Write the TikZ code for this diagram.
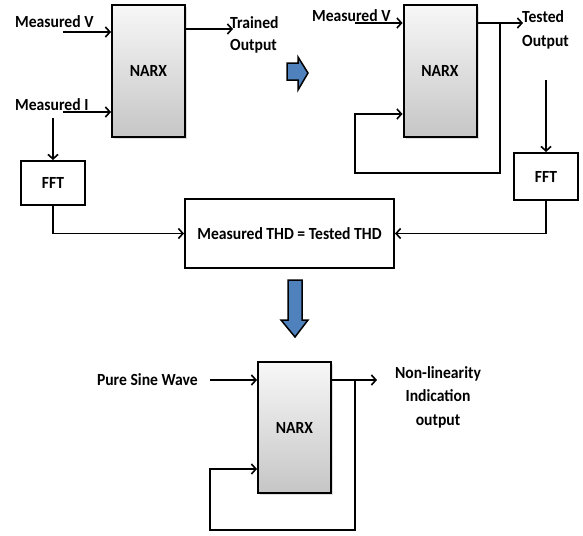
\documentclass[tikz,border=0pt]{standalone}
\usepackage{fontspec}
\setmainfont{Carlito}[FakeStretch=0.92]
\usetikzlibrary{arrows.meta,shadows}

\definecolor{blockblue}{RGB}{79,129,189}
\tikzset{
  narx/.style={draw, line width=2pt, top color=gray!6, bottom color=gray!45,
    minimum width=73pt, minimum height=132pt, font=\bfseries\fontsize{17}{19}\selectfont,
    drop shadow={opacity=0.25, shadow xshift=2pt, shadow yshift=-2pt}},
  plainbox/.style={draw, line width=2pt, fill=white, font=\bfseries\fontsize{17}{19}\selectfont},
  lbl/.style={font=\bfseries\fontsize{17}{22}\selectfont, inner sep=0pt},
  conn/.style={line width=1.6pt, -{Straight Barb[length=4.5pt,width=10pt,line width=1.6pt]}},
  bigarrow/.style={draw=black, line width=1.5pt, fill=blockblue, line join=miter},
}

\begin{document}
\begin{tikzpicture}[x=1pt,y=-1pt]
  \useasboundingbox (0,0) rectangle (583,535);

  % training network
  \node[narx] (narxA) at (148.5,71) {NARX};
  \node[lbl, anchor=base west] (mvA) at (15,28) {Measured V};
  \node[lbl, anchor=base west] (miA) at (15,110) {Measured I};
  \node[lbl, anchor=north west, align=left] (trainA) at (230,16.5) {Trained\\Output};
  \node[plainbox, minimum width=64pt, minimum height=44pt] (fftA) at (53,183) {FFT};
  \coordinate (inVA) at (63,32);
  \coordinate (inIA) at (63,112);
  \coordinate (tapI) at (53,118);
  \coordinate (outA) at (233,29);
  \draw[conn] (inVA) -- (inVA -| narxA.west);
  \draw[conn] (inIA) -- (inIA -| narxA.west);
  \draw[conn] (outA -| narxA.east) -- (outA);
  \draw[conn] (tapI) -- (fftA.north);

  % step arrow
  \draw[bigarrow] (287,63) -- (298,63) -- (298,57) -- (308,73) -- (298,90) -- (298,80) -- (287,80) -- cycle;

  % testing network
  \node[narx] (narxB) at (440,71) {NARX};
  \node[lbl, anchor=base west] (mvB) at (312,21.5) {Measured V};
  \node[lbl, anchor=north west, align=left, font=\bfseries\fontsize{17}{24}\selectfont] (testB) at (522,10) {Tested\\Output};
  \node[plainbox, minimum width=64pt, minimum height=47pt] (fftB) at (546,176.5) {FFT};
  \coordinate (inVB) at (355,23);
  \coordinate (outB) at (523,23);
  \coordinate (tapB) at (500,23);
  \coordinate (loopB) at (355,173);
  \coordinate (tapT) at (546,80);
  \draw[conn] (inVB) -- (inVB -| narxB.west);
  \draw[conn] (outB -| narxB.east) -- (outB);
  \draw[conn] (tapB) |- (loopB) |- ([yshift=24pt]narxB.south west);
  \draw[conn] (tapT) -- (fftB.north);

  % comparison
  \node[plainbox, minimum width=209pt, minimum height=69pt] (thd) at (289.5,233.5) {Measured THD = Tested THD};
  \draw[conn] (fftA.south) |- (thd.west);
  \draw[conn] (fftB.south) |- (thd.east);

  % step arrow
  \draw[bigarrow] (288,280) -- (302,280) -- (302,320) -- (308,320) -- (295,337) -- (281,320) -- (288,320) -- cycle;

  % indication network
  \node[narx, minimum height=131pt] (narxC) at (294.5,427.5) {NARX};
  \node[lbl, anchor=base east] (psw) at (198,385) {Pure Sine Wave};
  \node[lbl, anchor=north, align=center, font=\bfseries\fontsize{17}{23.5}\selectfont] (nlo) at (438,366) {Non-linearity\\Indication\\output};
  \coordinate (inC) at (210,380);
  \coordinate (outC) at (377,380);
  \coordinate (tapC) at (355,380);
  \coordinate (loopC) at (210,530);
  \draw[conn] (inC) -- (inC -| narxC.west);
  \draw[conn] (outC -| narxC.east) -- (outC);
  \draw[conn] (tapC) |- (loopC) |- ([yshift=25pt]narxC.south west);
\end{tikzpicture}
\end{document}
